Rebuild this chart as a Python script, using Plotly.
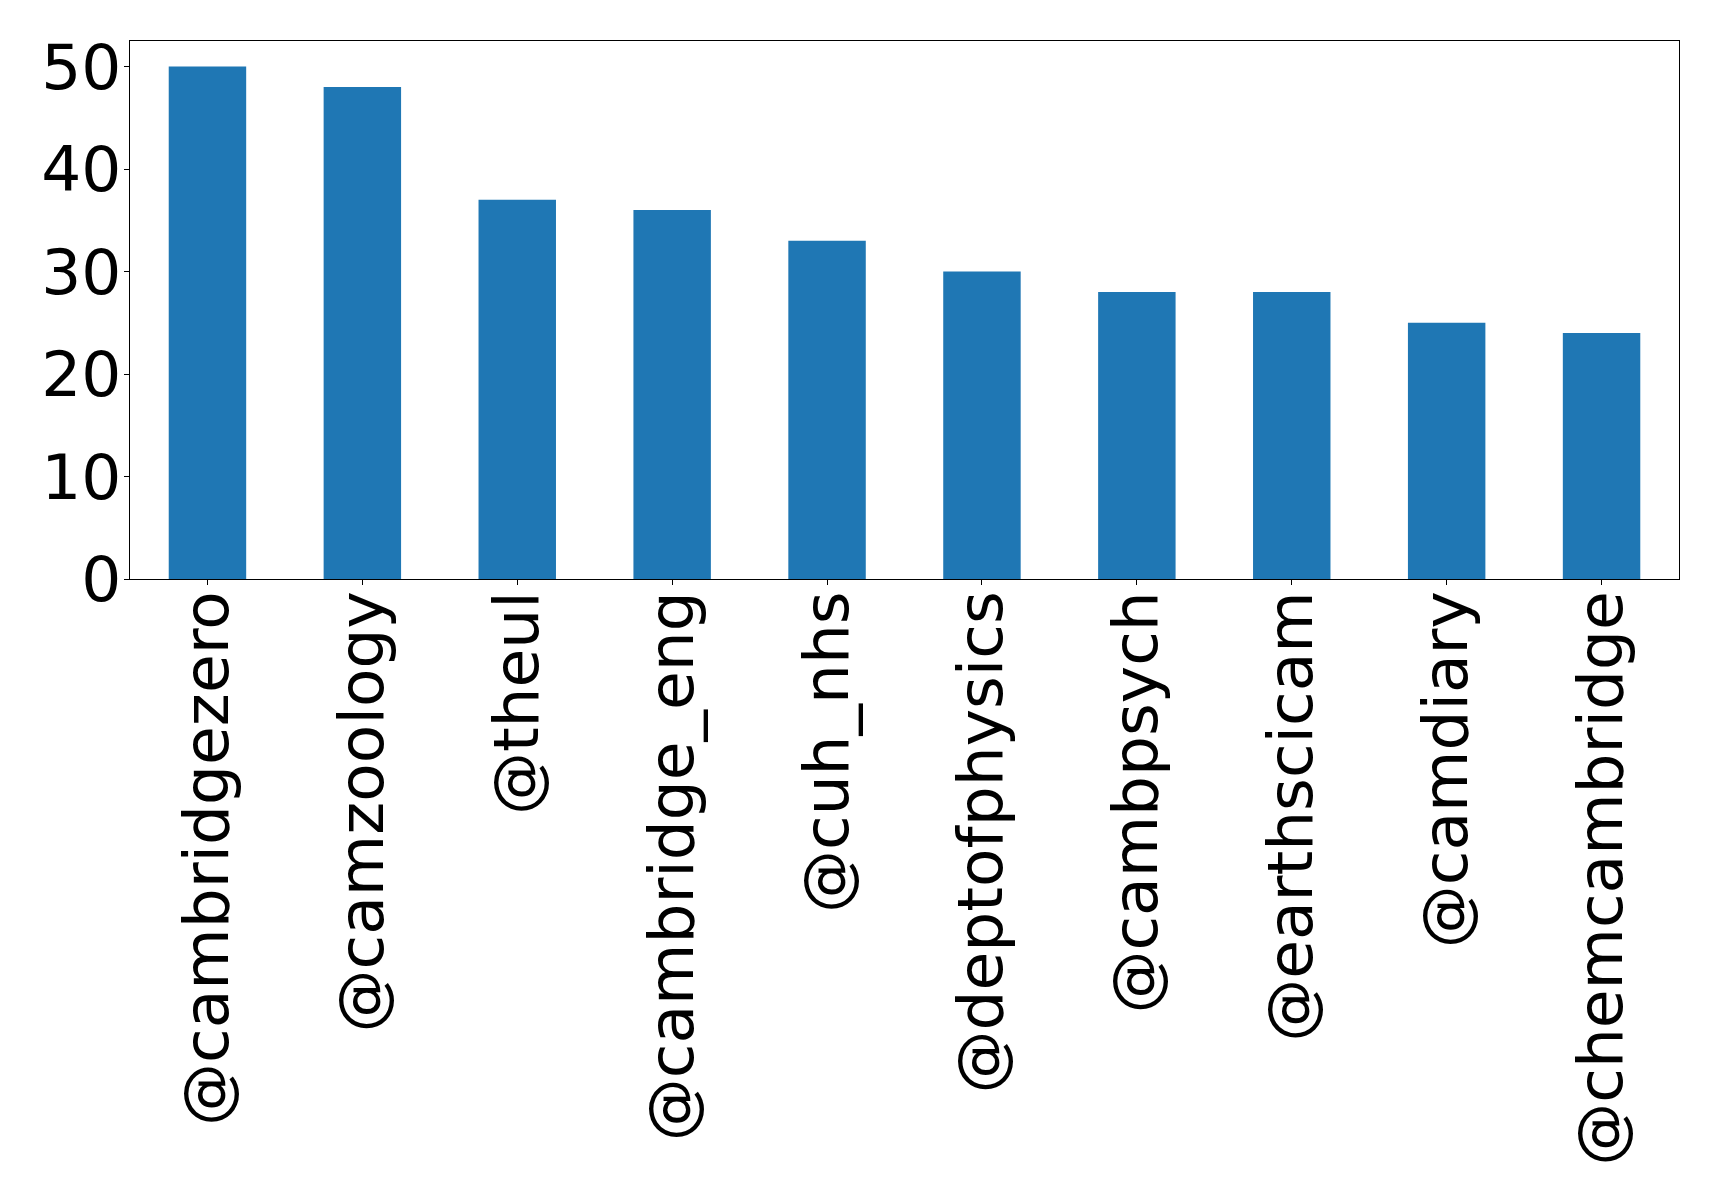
import plotly.graph_objects as go

accounts = ["@cambridgezero", "@camzoology", "@theul", "@cambridge_eng", "@cuh_nhs",
            "@deptofphysics", "@cambpsych", "@earthscicam", "@camdiary", "@chemcambridge"]
counts = [50, 48, 37, 36, 33, 30, 28, 28, 25, 24]
y_ticks = [0, 10, 20, 30, 40, 50]

fig = go.Figure(go.Bar(x=list(range(len(accounts))), y=counts, width=0.5,
                       marker=dict(color="#1f77b4", line=dict(width=0))))

font = dict(family="DejaVu Sans", size=63, color="black")
fig.update_layout(
    width=1719, height=1198,
    margin=dict(l=121.5, r=48, t=32.5, b=627),
    paper_bgcolor="white", plot_bgcolor="white",
    showlegend=False,
    font=font,
)
fig.update_xaxes(range=[-0.5, len(accounts) - 0.5], tickmode="array",
                 tickvals=list(range(len(accounts))), ticktext=accounts,
                 tickangle=-90, ticks="outside", ticklen=5, tickwidth=1, tickcolor="black",
                 showline=True, linecolor="black", linewidth=1.2, mirror=True,
                 showgrid=False, zeroline=False, tickfont=font,
                 automargin=False, ticklabelstandoff=-19)
fig.update_yaxes(range=[0, 52.5], tickmode="array", tickvals=y_ticks,
                 ticks="outside", ticklen=5, tickwidth=1, tickcolor="black",
                 showline=True, linecolor="black", linewidth=1.2, mirror=True,
                 showgrid=False, zeroline=False, tickfont=font,
                 automargin=False, ticklabelstandoff=-10)

fig.write_html("out.html")
